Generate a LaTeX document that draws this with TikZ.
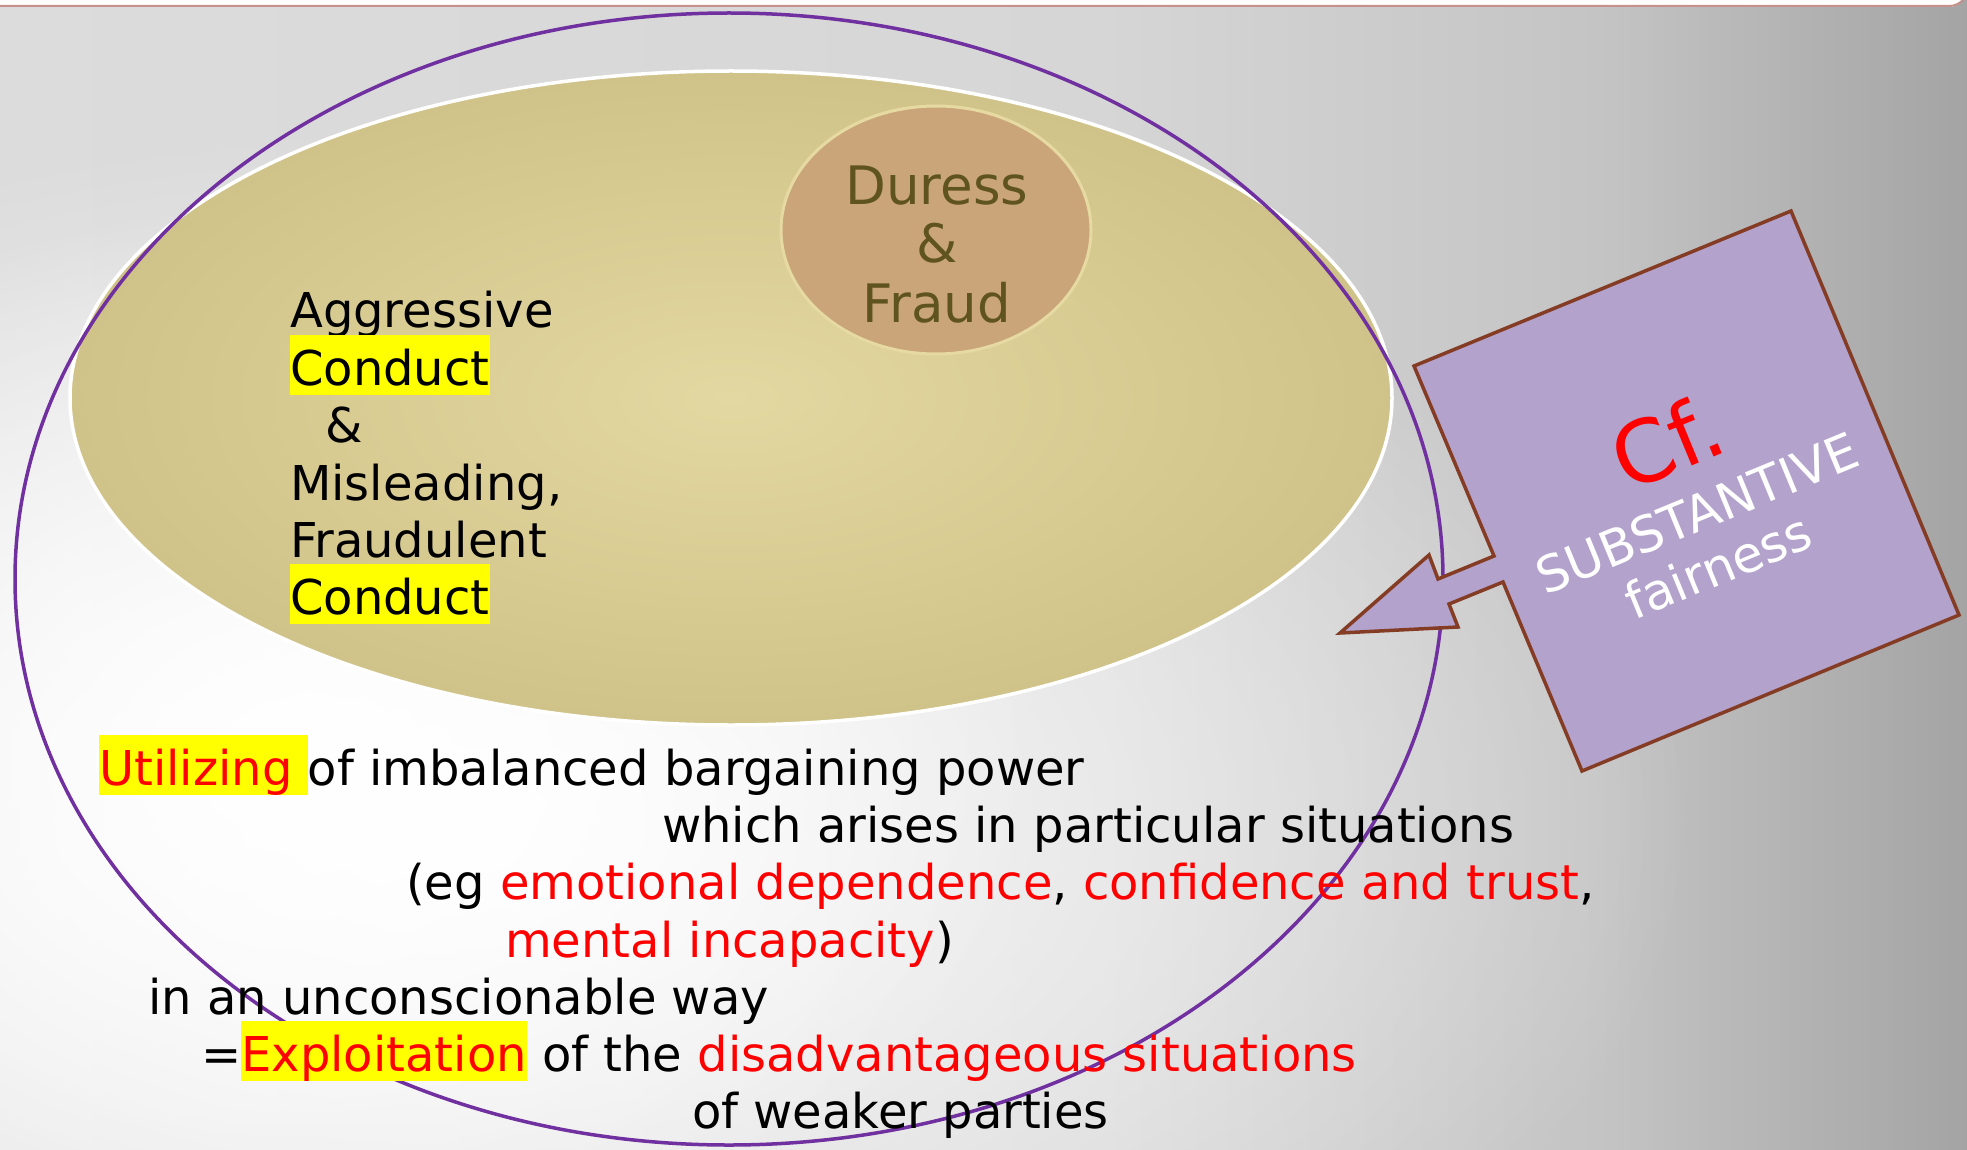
\documentclass[tikz,border=0pt]{standalone}
\usepackage{fontspec}
\setmainfont{DejaVu Sans}
\usetikzlibrary{fadings}
\definecolor{tanA}{HTML}{E3D8A1}
\definecolor{tanB}{HTML}{D0C389}
\definecolor{duressfill}{HTML}{CAA57A}
\definecolor{duressline}{HTML}{E6DAA2}
\definecolor{duresstext}{HTML}{5F5420}
\definecolor{ringpurple}{HTML}{7030A0}
\definecolor{calloutfill}{HTML}{B3A2CB}
\definecolor{calloutline}{HTML}{843C24}
\definecolor{topline}{HTML}{C8908A}
\definecolor{hlyellow}{HTML}{FFFF00}
\definecolor{txtred}{HTML}{FF0000}
\definecolor{bgA}{HTML}{DCDCDC}
\definecolor{bgB}{HTML}{D6D6D6}
\definecolor{bgC}{HTML}{C4C4C4}
\definecolor{bgD}{HTML}{A4A4A4}
\tikzfading[name=glowfade, inner color=transparent!0, outer color=transparent!100]
\newcommand\hlbox[1]{{\setlength{\fboxsep}{0pt}\colorbox{hlyellow}{\rule[-0.21em]{0pt}{1.25em}#1}}}
\newcommand\rd[1]{\textcolor{txtred}{#1}}
\begin{document}
\begin{tikzpicture}[x=1pt,y=-1pt,
  bodytext/.style={inner sep=0pt, anchor=base west, font=\fontsize{48}{57}\selectfont},
  duresstxt/.style={inner sep=0pt, anchor=base, text=duresstext, font=\fontsize{53}{58}\selectfont},
  boxtxt/.style={inner sep=0pt, anchor=center, rotate=22.4, text=white, font=\fontsize{50}{57}\selectfont}]
\useasboundingbox (0,0) rectangle (1967,1150);
% background
\fill[white] (0,0) rectangle (1967,1150);
\begin{scope}
\clip (0,1150) -- (0,7) -- (1949,7) arc[start angle=90, end angle=0, radius=18] -- (1967,1150) -- cycle;
\shade[left color=bgA, right color=bgB] (0,0) rectangle (1101,1150);
\shade[left color=bgB, right color=bgC] (1100,0) rectangle (1601,1150);
\shade[left color=bgC, right color=bgD] (1600,0) rectangle (1967,1150);
\fill[white, path fading=glowfade] (450,820) ellipse [x radius=1250, y radius=700];
\fill[white, path fading=glowfade] (300,760) ellipse [x radius=750, y radius=560];
\end{scope}
\draw[topline, line width=2] (0,6) -- (1949,6) arc[start angle=90, end angle=0, radius=19] -- (1968,40);
% tan ellipse
\shade[inner color=tanA, outer color=tanB] (731,398) ellipse [x radius=661, y radius=327];
\draw[white, line width=3.5] (731,398) ellipse [x radius=661, y radius=327];
% duress ellipse
\fill[duressfill] (936,230) ellipse [x radius=155, y radius=124];
\draw[duressline, line width=3] (936,230) ellipse [x radius=155, y radius=124];
% purple ring
\draw[ringpurple, line width=3.5] (729,579) ellipse [x radius=714, y radius=566];
% callout
\filldraw[fill=calloutfill, draw=calloutline, line width=3.5, line join=miter]
  (1414,366) -- (1791,211) -- (1959,615) -- (1582,771) -- (1503,582) -- (1449,604)
  -- (1458,627) -- (1340,633) -- (1429,555) -- (1438,579) -- (1494,556) -- cycle;
\node[inner sep=0pt, anchor=center, rotate=22.4, text=txtred, font=\fontsize{86}{90}\selectfont] (cf) at (1667,442) {Cf.};
\node[boxtxt] (subst) at (1697,513) {SUBSTANTIVE};
\node[boxtxt] (fair) at (1718,566) {fairness};
% duress text
\node[duresstxt] (d1) at (937,205) {Duress};
\node[duresstxt] (d2) at (937,263) {\&};
\node[duresstxt] (d3) at (937,322) {Fraud};
% aggressive block
\node[bodytext] (a1) at (290,327) {Aggressive};
\node[bodytext] (a2) at (290,385) {\hlbox{Conduct}};
\node[bodytext] (a3) at (325,442) {\&};
\node[bodytext] (a4) at (290,500) {Misleading,};
\node[bodytext] (a5) at (290,557) {Fraudulent};
\node[bodytext] (a6) at (290,614) {\hlbox{Conduct}};
% bottom block
\node[bodytext] (b1) at (99,785) {\hlbox{\rd{Utilizing}\ }of imbalanced bargaining power};
\node[bodytext] (b2) at (662,842) {which arises in particular situations};
\node[bodytext] (b3) at (406,899) {(eg \rd{emotional dependence}, \rd{confidence and trust},};
\node[bodytext] (b4) at (505,957) {\rd{mental incapacity})};
\node[bodytext] (b5) at (148,1014) {in an unconscionable way};
\node[bodytext] (b6) at (201,1071) {=\hlbox{\rd{Exploitation}} of the \rd{disadvantageous situations}};
\node[bodytext] (b7) at (692,1128) {of weaker parties};
\end{tikzpicture}
\end{document}
